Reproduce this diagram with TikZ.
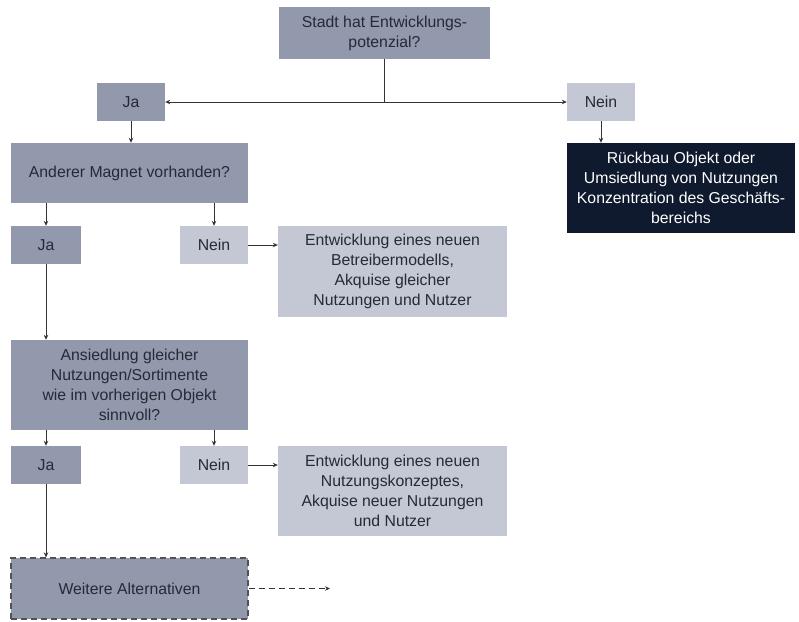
\documentclass[tikz,border=0pt]{standalone}
\usepackage{fontspec}
\setmainfont{Liberation Sans}
\usetikzlibrary{arrows.meta}
\definecolor{boxdark}{HTML}{9299AD}
\definecolor{boxlight}{HTML}{C4C8D4}
\definecolor{navy}{HTML}{0F1A2E}
\definecolor{txt}{HTML}{252A38}
\definecolor{linec}{HTML}{333333}
\tikzset{
  base/.style={inner sep=2pt, align=center, text=txt, font=\fontsize{15.8}{20}\selectfont},
  darkbox/.style={base, fill=boxdark},
  lightbox/.style={base, fill=boxlight},
  navybox/.style={base, fill=navy, text=white},
  conn/.style={draw=linec, line width=1pt, -{Stealth[length=5pt,width=4.5pt]}},
  plain/.style={draw=linec, line width=1pt},
  dashline/.style={dash pattern=on 6pt off 4pt},
}
\begin{document}
\begin{tikzpicture}[x=1pt,y=-1pt]
\useasboundingbox (0,0) rectangle (799,621);
\node[darkbox, minimum width=211pt, minimum height=52pt] (top) at (384.5,33) {Stadt hat Entwicklungs-\\potenzial?};
\node[darkbox, minimum width=68pt, minimum height=38pt] (ja1) at (131,102) {Ja};
\node[lightbox, minimum width=68pt, minimum height=38pt] (nein1) at (601,102) {Nein};
\node[navybox, minimum width=228pt, minimum height=90pt] (dark) at (681,188) {Rückbau Objekt oder\\Umsiedlung von Nutzungen\\Konzentration des Geschäfts-\\bereichs};
\node[darkbox, minimum width=237pt, minimum height=60pt] (magnet) at (129.5,173) {Anderer Magnet vorhanden?};
\node[darkbox, minimum width=70pt, minimum height=38pt] (ja2) at (46,245) {Ja};
\node[lightbox, minimum width=68pt, minimum height=38pt] (nein2) at (214,245) {Nein};
\node[lightbox, minimum width=229pt, minimum height=91pt] (betr) at (392.5,271.5) {Entwicklung eines neuen\\Betreibermodells,\\Akquise gleicher\\Nutzungen und Nutzer};
\node[darkbox, minimum width=237pt, minimum height=90pt] (ansied) at (129.5,385) {Ansiedlung gleicher\\Nutzungen/Sortimente\\wie im vorherigen Objekt\\sinnvoll?};
\node[darkbox, minimum width=70pt, minimum height=38pt] (ja3) at (46,465) {Ja};
\node[lightbox, minimum width=68pt, minimum height=38pt] (nein3) at (214,465) {Nein};
\node[lightbox, minimum width=229pt, minimum height=90pt] (nutz) at (392.5,491) {Entwicklung eines neuen\\Nutzungskonzeptes,\\Akquise neuer Nutzungen\\und Nutzer};
\node[darkbox, minimum width=237pt, minimum height=61pt, draw=linec!85, dashline, line width=1.3pt] (weitere) at (129.5,588.5) {Weitere Alternativen};
\coordinate (j) at (top.south |- ja1.east);
\coordinate (wend) at (330,588.5);
\draw[plain] (top.south) -- (j);
\draw[conn] (j) -- (ja1.east);
\draw[conn] (j) -- (nein1.west);
\draw[conn] (nein1.south) -- (nein1.south |- dark.north);
\draw[conn] (ja1.south) -- (ja1.south |- magnet.north);
\draw[conn] (magnet.south -| ja2.north) -- (ja2.north);
\draw[conn] (magnet.south -| nein2.north) -- (nein2.north);
\draw[conn] (nein2.east) -- (nein2.east -| betr.west);
\draw[conn] (ja2.south) -- (ja2.south |- ansied.north);
\draw[conn] (ansied.south -| ja3.north) -- (ja3.north);
\draw[conn] (ansied.south -| nein3.north) -- (nein3.north);
\draw[conn] (nein3.east) -- (nein3.east -| nutz.west);
\draw[conn] (ja3.south) -- (ja3.south |- weitere.north);
\draw[conn, dashline] (weitere.east) -- (wend);
\end{tikzpicture}
\end{document}
